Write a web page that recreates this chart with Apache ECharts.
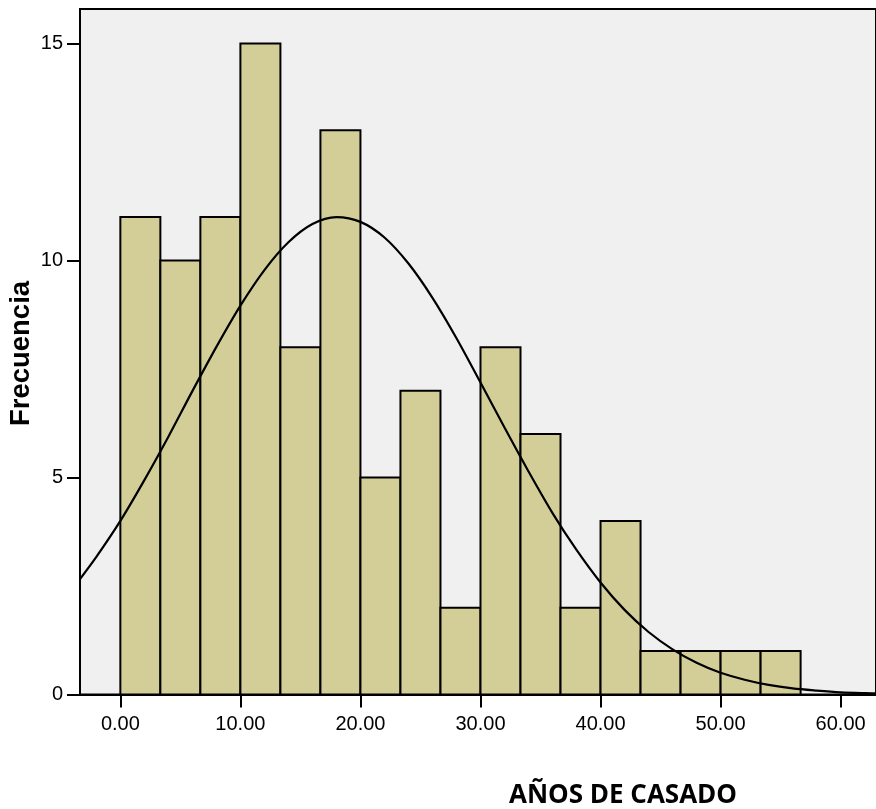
<!DOCTYPE html>
<html>
<head>
<meta charset="utf-8">
<script src="https://cdn.jsdelivr.net/npm/echarts@6/dist/echarts.min.js"></script>
<style>html,body{margin:0;padding:0;background:#fff}#c{width:876px;height:809px}</style>
</head>
<body>
<div id="c"></div>
<script>
// Histogram bins (años de casado), bin width 10/3
const binStarts = [0, 3.333, 6.667, 10, 13.333, 16.667, 20, 23.333, 26.667, 30, 33.333, 36.667, 40, 43.333, 46.667, 50, 53.333];
const binWidth = 3.333;
const counts = [11, 10, 11, 15, 8, 13, 5, 7, 2, 8, 6, 2, 4, 1, 1, 1, 1];
// Normal curve
const curveX = [-3.36, -2, 0, 2, 4, 6, 8, 10, 12, 14, 16, 18, 20, 22, 24, 26, 28, 30, 32, 34, 36, 38, 40, 42, 44, 46, 48, 50, 52, 54, 56, 58, 60, 62, 63];
const curveY = [2.66, 3.17, 4.00, 4.94, 5.94, 6.99, 8.01, 8.96, 9.78, 10.42, 10.84, 11.00, 10.89, 10.53, 9.93, 9.14, 8.21, 7.19, 6.15, 5.14, 4.18, 3.33, 2.58, 1.95, 1.44, 1.04, 0.73, 0.50, 0.34, 0.22, 0.14, 0.09, 0.05, 0.03, 0.025];
const xTicks = [0, 10, 20, 30, 40, 50, 60];
const yTicks = [0, 5, 10, 15];
const xTitle = 'AÑOS DE CASADO';
const yTitle = 'Frecuencia';

const chart = echarts.init(document.getElementById('c'), null, {renderer: 'canvas'});
const barData = binStarts.map((s, i) => [s, s + binWidth, counts[i]]);
const curveData = curveX.map((x, i) => [x, curveY[i]]);

chart.setOption({
  animation: false,
  grid: {left: 80, top: 9, right: -3, bottom: 114.5, show: true, backgroundColor: '#f0f0f0', borderColor: '#000', borderWidth: 2},
  xAxis: {
    type: 'value', min: -3.361, max: 62.946,
    axisLine: {show: true, onZero: false, lineStyle: {color: '#000', width: 2}},
    axisTick: {show: true, length: 13, lineStyle: {color: '#000', width: 2}, customValues: xTicks},
    axisLabel: {show: true, customValues: xTicks, margin: 20, fontSize: 20, color: '#000', fontFamily: 'Liberation Sans, Arial, sans-serif', formatter: v => v.toFixed(2)},
    splitLine: {show: false}
  },
  yAxis: {
    type: 'value', min: 0, max: 15.795,
    axisLine: {show: true, onZero: false, lineStyle: {color: '#000', width: 2}},
    axisTick: {show: true, length: 13, lineStyle: {color: '#000', width: 2}, customValues: yTicks},
    axisLabel: {show: true, customValues: yTicks, margin: 17, fontSize: 20, color: '#000', fontFamily: 'Liberation Sans, Arial, sans-serif'},
    splitLine: {show: false}
  },
  series: [
    {
      type: 'custom',
      data: barData,
      renderItem: function (params, api) {
        const p0 = api.coord([api.value(0), 0]);
        const p1 = api.coord([api.value(1), api.value(2)]);
        return {
          type: 'rect',
          shape: {x: p0[0], y: p1[1], width: p1[0] - p0[0], height: p0[1] - p1[1]},
          style: {fill: '#d3ce98', stroke: '#000', lineWidth: 2}
        };
      },
      encode: {x: [0, 1], y: 2},
      z: 2
    },
    {
      type: 'line',
      data: curveData,
      smooth: 0.3,
      showSymbol: false,
      lineStyle: {color: '#000', width: 2.2},
      z: 3
    }
  ],
  graphic: [
    {type: 'text', x: 623, y: 796, z: 10, style: {text: xTitle, fontFamily: 'Open Sans', fontWeight: 'bold', fontSize: 26, fill: '#000', align: 'center', verticalAlign: 'middle'}},
    {type: 'text', x: 21.5, y: 353.5, rotation: Math.PI / 2, z: 10, style: {text: yTitle, fontFamily: 'Liberation Sans, Arial', fontWeight: 'bold', fontSize: 27.5, fill: '#000', align: 'center', verticalAlign: 'middle'}}
  ]
});
</script>
</body>
</html>
